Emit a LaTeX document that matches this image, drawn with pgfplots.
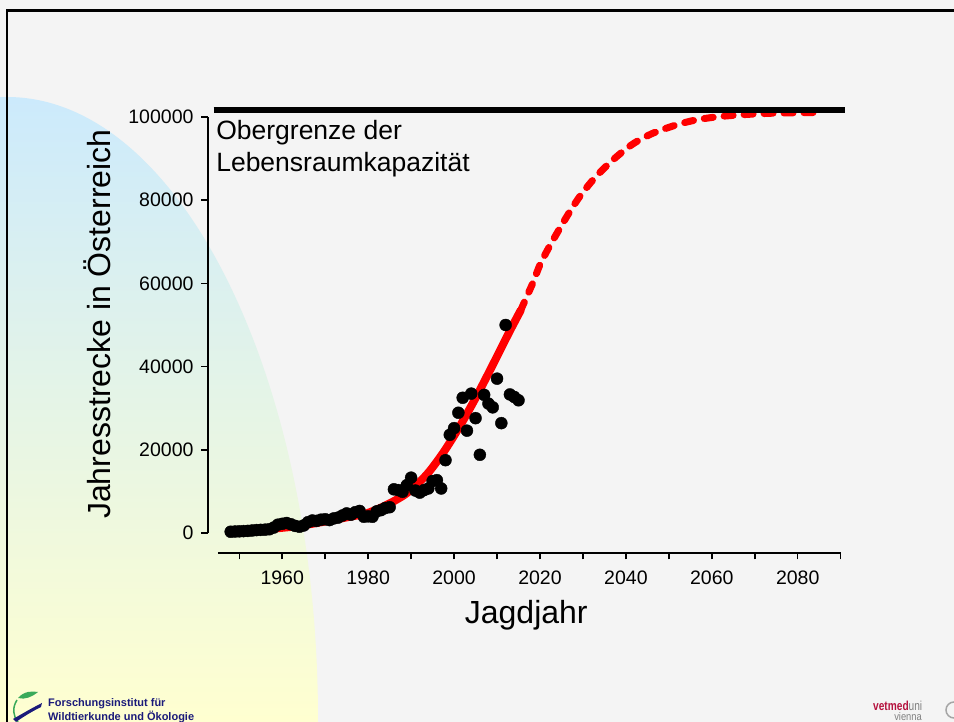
\documentclass[border=0pt]{standalone}
\usepackage{pgfplots}
\pgfplotsset{compat=1.18}
\usepackage{fontspec}
\setmainfont{Liberation Sans}
\definecolor{bg}{HTML}{F4F4F4}
\definecolor{topblue}{HTML}{CCEAFC}
\definecolor{botyellow}{HTML}{FFFFD0}
\definecolor{navy}{HTML}{1B1B7A}
\definecolor{vetred}{HTML}{B5123E}
\definecolor{leafgreen}{HTML}{3AAA5A}
\pgfplotstableread{
year value
1948 300
1949 350
1950 400
1951 450
1952 500
1953 600
1954 700
1955 750
1956 800
1957 900
1958 1300
1959 2000
1960 2200
1961 2400
1962 2100
1963 1700
1964 1500
1965 1800
1966 2600
1967 3000
1968 2900
1969 3200
1970 3300
1971 3100
1972 3500
1973 3700
1974 4200
1975 4700
1976 4400
1977 5000
1978 5300
1979 3900
1980 4000
1981 3900
1982 5200
1983 5500
1984 6000
1985 6200
1986 10500
1987 10300
1988 9900
1989 11500
1990 13300
1991 10200
1992 9700
1993 10300
1994 10700
1995 12500
1996 12700
1997 10700
1998 17500
1999 23600
2000 25200
2001 28900
2002 32500
2003 24600
2004 33500
2005 27600
2006 18800
2007 33200
2008 31100
2009 30200
2010 37100
2011 26400
2012 50000
2013 33300
2014 32700
2015 31900
}\strecke
\pgfplotstableread{
year value
1948 300
1952 550
1956.3 900
1960 1250
1964 1700
1968 2400
1971.8 3100
1975.7 3900
1979.6 4700
1984.2 6700
1988.9 9500
1993.5 13900
1997.4 19200
2001.3 25600
2005.2 32800
2009 40400
2012.9 48400
2015.5 53500
}\modelfit
\pgfplotstableread{
year value
2015.5 53500
2017 57000
2018.5 60500
2020 64500
2022 68500
2024.2 72500
2026.5 76500
2029.2 80800
2032.7 85300
2037 89700
2041.6 93500
2046.3 96100
2051.8 98100
2056.4 99300
2061.8 100100
2068 100600
2074 100900
2080 101000
2086 101100
}\prognose
\begin{document}
\begin{tikzpicture}[x=1pt,y=1pt]
\useasboundingbox (0,0) rectangle (954,722);
\fill[bg] (0,0) rectangle (954,722);
\begin{scope}
\clip (0,0) rectangle (954,722);
\clip (7,2) ellipse [x radius=311, y radius=623];
\shade[top color=topblue, bottom color=botyellow] (0,0) rectangle (330,625);
\end{scope}
\draw[line width=2.5pt] (7,-5) -- (7,711.7) -- (960,711.7);
% logos
\fill[leafgreen] (18,24) .. controls (24,31) and (32,31) .. (38,30) .. controls (32,25) and (25,22) .. cycle;
\draw[leafgreen, line width=1.5pt] (17,22) .. controls (12,14) and (13,6) .. (18,0);
\fill[navy] (13,3) .. controls (22,8) and (30,13) .. (42,19) -- (41,15) .. controls (31,10) and (23,5) .. (16,0) -- cycle;
\node[anchor=base west, inner sep=0, text=navy, font=\bfseries\fontsize{11}{13}\selectfont] at (48,15) {Forschungsinstitut für};
\node[anchor=base west, inner sep=0, text=navy, font=\bfseries\fontsize{11}{13}\selectfont] at (48,1.5) {Wildtierkunde und Ökologie};
\node[anchor=base west, inner sep=0, font=\fontsize{13}{13}\selectfont] at (873,11.3) {\scalebox{0.78}[1]{\textcolor{vetred}{\bfseries vetmed}\textcolor{gray}{uni}}};
\node[anchor=base east, inner sep=0, text=gray, font=\fontsize{11}{11}\selectfont] at (922,1.5) {\scalebox{0.85}[1]{vienna}};
\draw[gray!70, line width=1.5pt] (954,12) circle (8);
\begin{axis}[
  at={(207.5pt,169.2pt)}, anchor=south west,
  scale only axis, width=637.5pt, height=448.3pt,
  xmin=1942.6, xmax=2091, ymin=-4760, ymax=103000,
  clip=false,
  axis lines*=left,
  axis line style={draw=none},
  tick align=outside,
  xtick={1960,1980,2000,2020,2040,2060,2080},
  xticklabels={1960,1980,2000,2020,2040,2060,2080},
  minor xtick={1950,1970,1990,2010,2030,2050,2070,2090},
  ytick={0,20000,40000,60000,80000,100000},
  yticklabels={0,20000,40000,60000,80000,100000},
  major tick length=6.5pt, minor tick length=6.5pt,
  tick style={line width=1.5pt, black},
  scaled y ticks=false, scaled x ticks=false,
  tick label style={font=\fontsize{19.5}{20}\selectfont},
  xticklabel style={yshift=-8pt},
  yticklabel style={xshift=-4pt},
  xlabel={Jagdjahr}, ylabel={Jahresstrecke in Österreich},
  label style={font=\fontsize{32}{36}\selectfont},
  xlabel style={at={(axis description cs:0.5,-0.139)}, anchor=center},
  ylabel style={at={(axis description cs:-0.1733,0.51)}, anchor=center},
]
\draw[line width=2pt] (axis cs:1942.6,0) -- (axis cs:1942.6,100000);
\draw[line width=2pt] (axis cs:1945,-4760) -- (axis cs:2090,-4760);
\addplot[only marks, mark=*, mark size=6pt, black] table[x=year, y=value] {\strecke};
\addplot[red, line width=8pt, smooth, line cap=round] table[x=year, y=value] {\modelfit};
\addplot[red, line width=7pt, smooth, line cap=round, dash pattern=on 9pt off 11pt] table[x=year, y=value] {\prognose};
\addplot[black, line width=6pt] coordinates {(1944,101700) (2091,101700)};
\node[anchor=base west, inner sep=0, font=\fontsize{26.5}{30}\selectfont] at (axis cs:1944.6,94500) {Obergrenze der};
\node[anchor=base west, inner sep=0, font=\fontsize{26.5}{30}\selectfont] at (axis cs:1944.6,87000) {Lebensraumkapazität};
\end{axis}
\end{tikzpicture}
\end{document}
